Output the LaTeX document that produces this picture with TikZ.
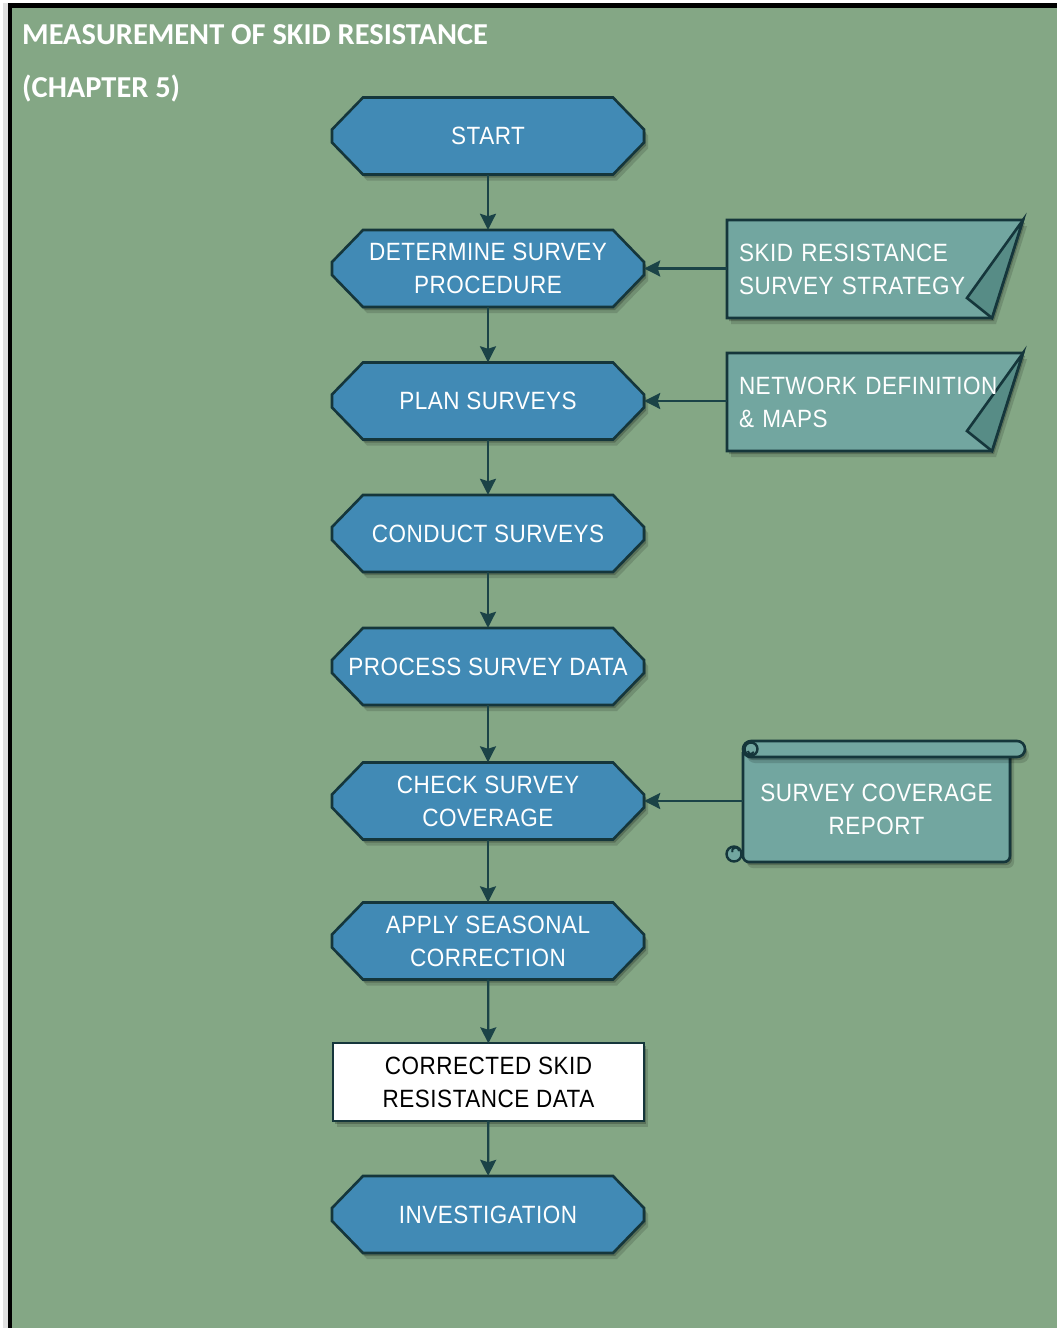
\documentclass[tikz,border=0pt]{standalone}
\usepackage{fontspec}
\setmainfont{Liberation Sans}[FakeStretch=0.9,LetterSpace=2]
\newfontfamily\headfont{Carlito}
\usetikzlibrary{shadows,arrows.meta}

\definecolor{panel}{HTML}{84A785}
\definecolor{hexfill}{HTML}{418AB5}
\definecolor{edge}{HTML}{15363B}
\definecolor{notefill}{HTML}{72A6A0}
\definecolor{foldfill}{HTML}{578C86}
\definecolor{wire}{HTML}{1B4347}

\tikzset{
  softshadow/.style={
    drop shadow={shadow xshift=2pt,shadow yshift=-3pt,opacity=.22,fill=black},
    drop shadow={shadow xshift=4pt,shadow yshift=-6pt,opacity=.14,fill=black}},
  hexbody/.style={fill=hexfill,draw=edge,line width=2.6pt,line join=miter,softshadow},
  notebody/.style={fill=notefill,draw=edge,line width=2.6pt,line join=miter,softshadow},
  foldbody/.style={fill=foldfill,draw=edge,line width=2.6pt,line join=miter},
  boxtext/.style={inner sep=0pt,align=center,text=white,
    font=\fontsize{25}{33}\selectfont},
  stepnode/.style={boxtext,minimum width=312pt,minimum height=77pt},
  notetext/.style={boxtext,align=left,text width=272pt,inner xsep=12pt,
    minimum height=98pt},
  link/.style={draw=wire,line width=2.3pt,
    -{Stealth[width=16pt,length=16pt,inset=2.5pt]}},
  headtext/.style={inner sep=0pt,anchor=base west,text=white,
    font=\headfont\bfseries\fontsize{30.4}{36}\selectfont}
}

% hexagonal process box: name, centre y, label
\newcommand\hexstep[3]{%
  \path[hexbody] (488-125,#2-38.5) -- (488+125,#2-38.5) -- (488+156,#2-6.5)
    -- (488+156,#2+6.5) -- (488+125,#2+38.5) -- (488-125,#2+38.5)
    -- (488-156,#2+6.5) -- (488-156,#2-6.5) -- cycle;
  \node[stepnode] (#1) at (488,#2) {#3};}

% note with a turned-down corner: name, top y, label
\newcommand\foldnote[3]{%
  \path[notebody] (727,#2) -- (1023,#2) -- (992,#2+98) -- (727,#2+98) -- cycle;
  \path[foldbody] (1023,#2) -- (967,#2+78) -- (992,#2+98) -- cycle;
  \node[notetext] (#1) at (875,#2+49) {#3};}

\begin{document}
\begin{tikzpicture}[x=1pt,y=-1pt]
\useasboundingbox (0,0) rectangle (1057,1328);
\fill[white] (0,0) rectangle (1057,1328);
\fill[black!12] (3,3) rectangle (8,1328);
\fill[black] (8,3) rectangle (1057,1328);
\fill[panel] (12,8) rectangle (1057,1328);

\node[headtext] (title) at (22,44) {MEASUREMENT OF SKID RESISTANCE};
\node[headtext] (chapter) at (22,97) {(CHAPTER 5)};

\hexstep{start}{136}{START}
\hexstep{procedure}{268.5}{DETERMINE SURVEY\\PROCEDURE}
\hexstep{plan}{401}{PLAN SURVEYS}
\hexstep{conduct}{533.5}{CONDUCT SURVEYS}
\hexstep{process}{666.5}{PROCESS SURVEY DATA}
\hexstep{check}{801}{CHECK SURVEY\\COVERAGE}
\hexstep{seasonal}{941}{APPLY SEASONAL\\CORRECTION}

% plain output box
\path[fill=white,draw=edge,line width=2.6pt,softshadow] (333,1043) rectangle (644,1121);
\node[stepnode,text=black] (corrected) at (488.5,1082) {CORRECTED SKID\\RESISTANCE DATA};

\hexstep{investigation}{1214.5}{INVESTIGATION}

\foldnote{strategy}{220}{SKID RESISTANCE\\SURVEY STRATEGY}
\foldnote{network}{353}{NETWORK DEFINITION\\\& MAPS}

% scroll
\path[notebody,rounded corners=6pt] (743,752) -- (743,862) -- (1010,862) -- (1010,752);
\path[notebody,rounded corners=8pt] (743,741) rectangle (1025,757);
\path[fill=notefill,draw=edge,line width=2.4pt] (751,749) circle (6.5);
\draw[edge,line width=2pt] (748,751) arc (180:20:3);
\path[fill=notefill,draw=edge,line width=2.4pt] (734,854) circle (7.5);
\draw[edge,line width=2pt] (739,851) arc (0:-200:3.5);
\node[boxtext,minimum width=267pt,minimum height=105pt] (report) at (876.5,809.5)
  {SURVEY COVERAGE\\REPORT};

% connectors
\draw[link] (start) -- (procedure);
\draw[link] (procedure) -- (plan);
\draw[link] (plan) -- (conduct);
\draw[link] (conduct) -- (process);
\draw[link] (process) -- (check);
\draw[link] (check) -- (seasonal);
\draw[link] (seasonal) -- (corrected);
\draw[link] (corrected) -- (investigation);
\draw[link] (procedure.east -| strategy.west) -- (procedure.east);
\draw[link] (plan.east -| network.west) -- (plan.east);
\draw[link] (check.east -| report.west) -- (check.east);
\end{tikzpicture}
\end{document}
